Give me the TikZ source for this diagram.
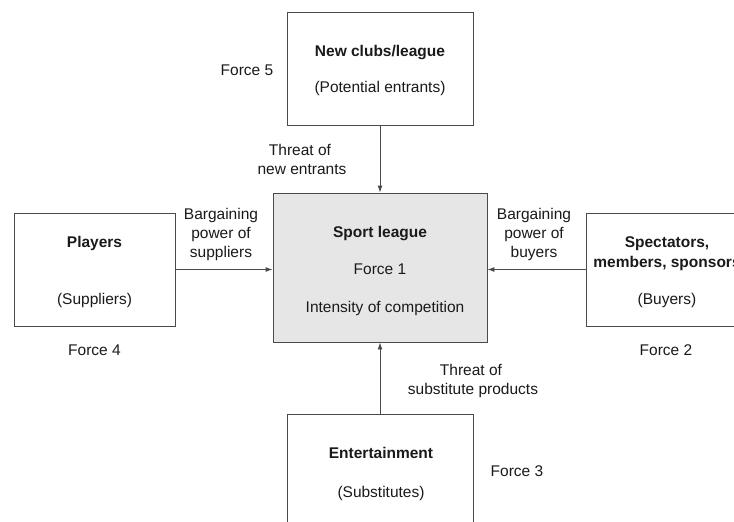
\documentclass[tikz,border=0pt]{standalone}
\usepackage{fontspec}
\setmainfont{Liberation Sans}
\usetikzlibrary{arrows.meta}
\definecolor{linec}{HTML}{4A4A4A}
\definecolor{boxfill}{HTML}{E6E6E6}
\definecolor{txt}{HTML}{1A1A1A}
\tikzset{
  box/.style={draw=linec, line width=0.9pt, rectangle, inner sep=0pt},
  lbl/.style={anchor=base, inner sep=0pt, text=txt, font=\fontsize{15.5}{19}\selectfont},
  blbl/.style={lbl, font=\fontsize{15.5}{19}\selectfont\bfseries},
  arr/.style={draw=linec, line width=0.9pt, -{Latex[length=7pt,width=5pt]}}
}
\begin{document}
\begin{tikzpicture}[x=1pt,y=-1pt]
\useasboundingbox (0,0) rectangle (734,522);
\clip (0,0) rectangle (734,522);
\fill[white] (0,0) rectangle (734,522);
% boxes
\node[box, minimum width=186pt, minimum height=113pt] (top) at (380,68.5) {};
\node[box, fill=boxfill, minimum width=214pt, minimum height=149pt] (ctr) at (380,267.5) {};
\node[box, minimum width=161pt, minimum height=113pt] (lft) at (94.5,269.5) {};
\node[box, minimum width=162pt, minimum height=113pt] (rgt) at (667,269.5) {};
\node[box, minimum width=186pt, minimum height=113pt] (bot) at (380,470.5) {};
% arrows
\draw[arr] (top.south) -- (ctr.north);
\draw[arr] (lft.east) -- (ctr.west |- lft.east);
\draw[arr] (rgt.west) -- (ctr.east |- rgt.west);
\draw[arr] (bot.north) -- (ctr.south);
% top box text
\node[blbl] (t1) at (380,56) {New clubs/league};
\node[lbl] (t2) at (380,92.5) {(Potential entrants)};
\node[lbl] (f5) at (247,75.5) {Force 5};
\node[lbl] (te1) at (300,155) {Threat of};
\node[lbl] (te2) at (302,174) {new entrants};
% center
\node[blbl] (c1) at (380,237) {Sport league};
\node[lbl] (c2) at (380,274.5) {Force 1};
\node[lbl] (c3) at (385,312) {Intensity of competition};
% left
\node[blbl] (l1) at (94.5,247) {Players};
\node[lbl] (l2) at (94.5,304.5) {(Suppliers)};
\node[lbl] (f4) at (94.5,355) {Force 4};
\node[lbl] (bs1) at (221,219.5) {Bargaining};
\node[lbl] (bs2) at (221,238.5) {power of};
\node[lbl] (bs3) at (221,257.5) {suppliers};
% right
\node[blbl] (r1) at (667,247) {Spectators,};
\node[blbl] (r2) at (667,267) {members, sponsors};
\node[lbl] (r3) at (667,304.5) {(Buyers)};
\node[lbl] (f2) at (666,355) {Force 2};
\node[lbl] (bb1) at (534,219.5) {Bargaining};
\node[lbl] (bb2) at (534,238.5) {power of};
\node[lbl] (bb3) at (534,257.5) {buyers};
% bottom
\node[lbl] (ts1) at (471,375) {Threat of};
\node[lbl] (ts2) at (473,394) {substitute products};
\node[blbl] (b1) at (381,458) {Entertainment};
\node[lbl] (b2) at (381,497) {(Substitutes)};
\node[lbl] (f3) at (517,476.5) {Force 3};
\end{tikzpicture}
\end{document}
